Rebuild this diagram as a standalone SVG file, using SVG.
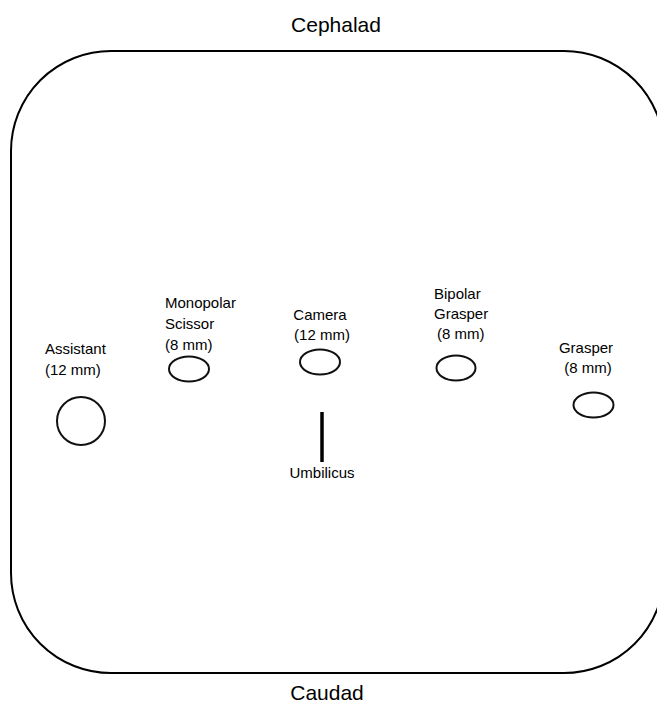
<svg xmlns="http://www.w3.org/2000/svg" width="657" height="703" viewBox="0 0 657 703">
<style>
.lbl{font-family:"Liberation Sans",Arial,sans-serif;font-size:15px;fill:#000}
.big{font-family:"Liberation Sans",Arial,sans-serif;font-size:21px;fill:#000}
.port{fill:none;stroke:#111;stroke-width:2}
</style>
<rect x="0" y="0" width="657" height="703" fill="#fff"/>
<g id="abdomen">
<rect x="11" y="51" width="653" height="622" rx="100" ry="100" fill="none" stroke="#000" stroke-width="2"/>
</g>
<text class="big" x="336" y="32" text-anchor="middle">Cephalad</text>
<text class="big" x="327" y="700" text-anchor="middle">Caudad</text>
<g id="assistant">
<text class="lbl" x="45" y="354">Assistant</text>
<text class="lbl" x="45" y="375">(12 mm)</text>
<circle class="port" cx="81" cy="421" r="24"/>
</g>
<g id="monopolar">
<text class="lbl" x="165" y="308">Monopolar</text>
<text class="lbl" x="165" y="329">Scissor</text>
<text class="lbl" x="165" y="350">(8 mm)</text>
<ellipse class="port" cx="189" cy="369" rx="20" ry="12.5"/>
</g>
<g id="camera">
<text class="lbl" x="320" y="320" text-anchor="middle">Camera</text>
<text class="lbl" x="322" y="340" text-anchor="middle">(12 mm)</text>
<ellipse class="port" cx="320" cy="362" rx="20" ry="12.5"/>
</g>
<g id="umbilicus">
<line x1="322" y1="412" x2="322" y2="462" stroke="#000" stroke-width="3.5"/>
<text class="lbl" x="322" y="478" text-anchor="middle">Umbilicus</text>
</g>
<g id="bipolar">
<text class="lbl" x="434" y="299">Bipolar</text>
<text class="lbl" x="434" y="319">Grasper</text>
<text class="lbl" x="437" y="339">(8 mm)</text>
<ellipse class="port" cx="456" cy="368" rx="19.5" ry="12.5"/>
</g>
<g id="grasper">
<text class="lbl" x="586" y="353" text-anchor="middle">Grasper</text>
<text class="lbl" x="588" y="373" text-anchor="middle">(8 mm)</text>
<ellipse class="port" cx="593.5" cy="405" rx="20" ry="12.5"/>
</g>
<g id="connectors"></g>
</svg>
